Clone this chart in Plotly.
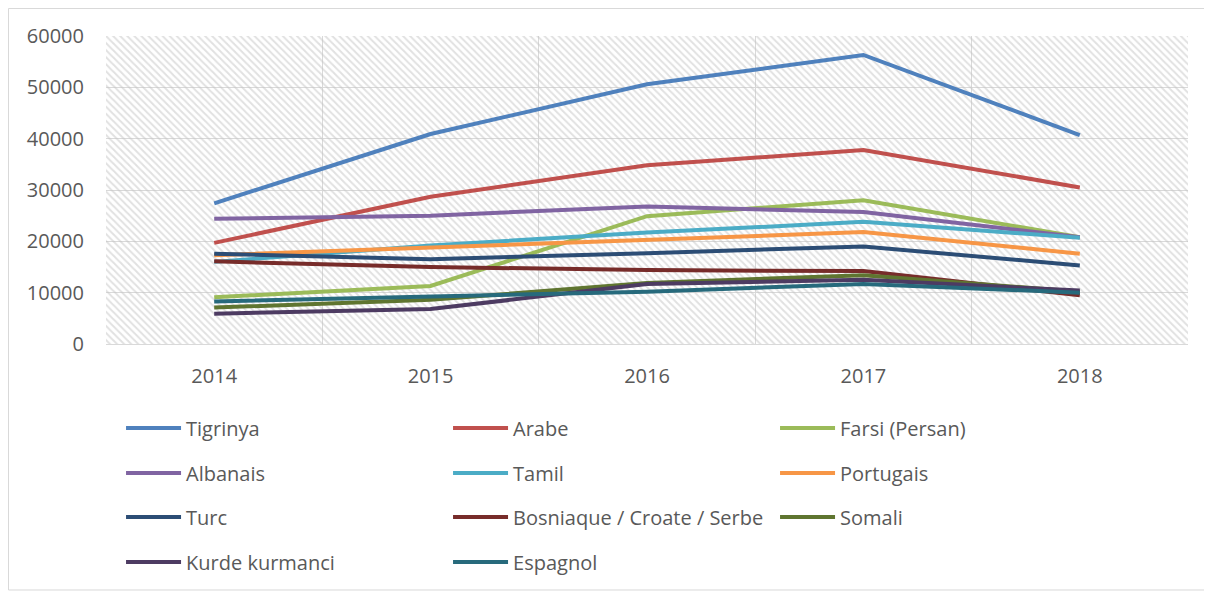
import plotly.graph_objects as go

years = ["2014", "2015", "2016", "2017", "2018"]
tigrinya = [27400, 40900, 50600, 56300, 40700]
arabe = [19700, 28700, 34800, 37800, 30500]
farsi = [9100, 11300, 24900, 28000, 20800]
albanais = [24400, 25000, 26800, 25700, 20800]
tamil = [16000, 19200, 21700, 23800, 20700]
portugais = [17300, 18800, 20200, 21800, 17600]
turc = [17600, 16500, 17700, 19000, 15300]
bosniaque = [16100, 15000, 14400, 14200, 9500]
somali = [7100, 8600, 11900, 13400, 10200]
kurde = [5900, 6800, 11700, 12500, 10400]
espagnol = [8300, 9200, 10200, 11700, 10000]

series = [
    ("Tigrinya", tigrinya, "#4F81BD"),
    ("Arabe", arabe, "#C0504D"),
    ("Farsi (Persan)", farsi, "#9BBB59"),
    ("Albanais", albanais, "#8064A2"),
    ("Tamil", tamil, "#4BACC6"),
    ("Portugais", portugais, "#F79646"),
    ("Turc", turc, "#2C4D75"),
    ("Bosniaque / Croate / Serbe", bosniaque, "#772C2A"),
    ("Somali", somali, "#5F7530"),
    ("Kurde kurmanci", kurde, "#4D3B62"),
    ("Espagnol", espagnol, "#276A7C"),
]

FONT = "Open Sans"
TXT = "#595959"

fig = go.Figure()

# hatched plot-area background
fig.add_trace(go.Bar(
    x=[0.5], y=[1], width=[1], xaxis="x", yaxis="y",
    marker=dict(color="rgba(0,0,0,0)", line=dict(width=0),
                pattern=dict(shape="\\", fgcolor="#c4c4c4", size=5, solidity=0.4)),
    showlegend=False, hoverinfo="skip",
))

legend_ids = ["legend", "legend2", "legend3", "legend4"]
for i, (name, vals, col) in enumerate(series):
    fig.add_trace(go.Scatter(
        x=years, y=vals, name=name, mode="lines",
        line=dict(color=col, width=4),
        xaxis="x2", yaxis="y2",
        legend=legend_ids[i // 3],
    ))

row_y = [-0.2727, -0.4188, -0.5617, -0.7078]
leg_common = dict(orientation="h", entrywidth=257, entrywidthmode="pixels",
                  x=0.0139, xanchor="left", yanchor="middle",
                  font=dict(family=FONT, size=20, color=TXT),
                  bgcolor="rgba(0,0,0,0)", itemwidth=55)

fig.update_layout(
    width=1212, height=592,
    margin=dict(l=98, r=32, t=28, b=256),
    paper_bgcolor="white", plot_bgcolor="white",
    font=dict(family=FONT, size=20, color=TXT),
    xaxis=dict(range=[0, 1], visible=False, fixedrange=True),
    yaxis=dict(range=[0, 1], visible=False, fixedrange=True),
    xaxis2=dict(overlaying="x", anchor="y2", side="bottom", type="category",
                range=[-0.5, 4.5], tickson="boundaries", showgrid=True,
                gridcolor="#d9d9d9", gridwidth=1, showline=True, linecolor="#d9d9d9",
                linewidth=1, ticks="", ticklabelstandoff=14,
                tickfont=dict(family=FONT, size=20, color=TXT), zeroline=False),
    yaxis2=dict(overlaying="y", anchor="x2", side="left", range=[0, 60000],
                dtick=10000, tickformat="d", showgrid=True, gridcolor="#d9d9d9", gridwidth=1,
                zeroline=False, showline=False, ticks="", ticklabelstandoff=21,
                tickfont=dict(family=FONT, size=20, color=TXT)),
    legend=dict(y=row_y[0], **leg_common),
    legend2=dict(y=row_y[1], **leg_common),
    legend3=dict(y=row_y[2], **leg_common),
    legend4=dict(y=row_y[3], **leg_common),
    shapes=[dict(type="rect", xref="paper", yref="paper",
                 x0=-0.0901, x1=1.0157, y0=-0.7987, y1=1.0893,
                 line=dict(color="#d9d9d9", width=1), fillcolor="rgba(0,0,0,0)",
                 layer="below")],
    showlegend=True,
)

fig.write_html("out.html")
